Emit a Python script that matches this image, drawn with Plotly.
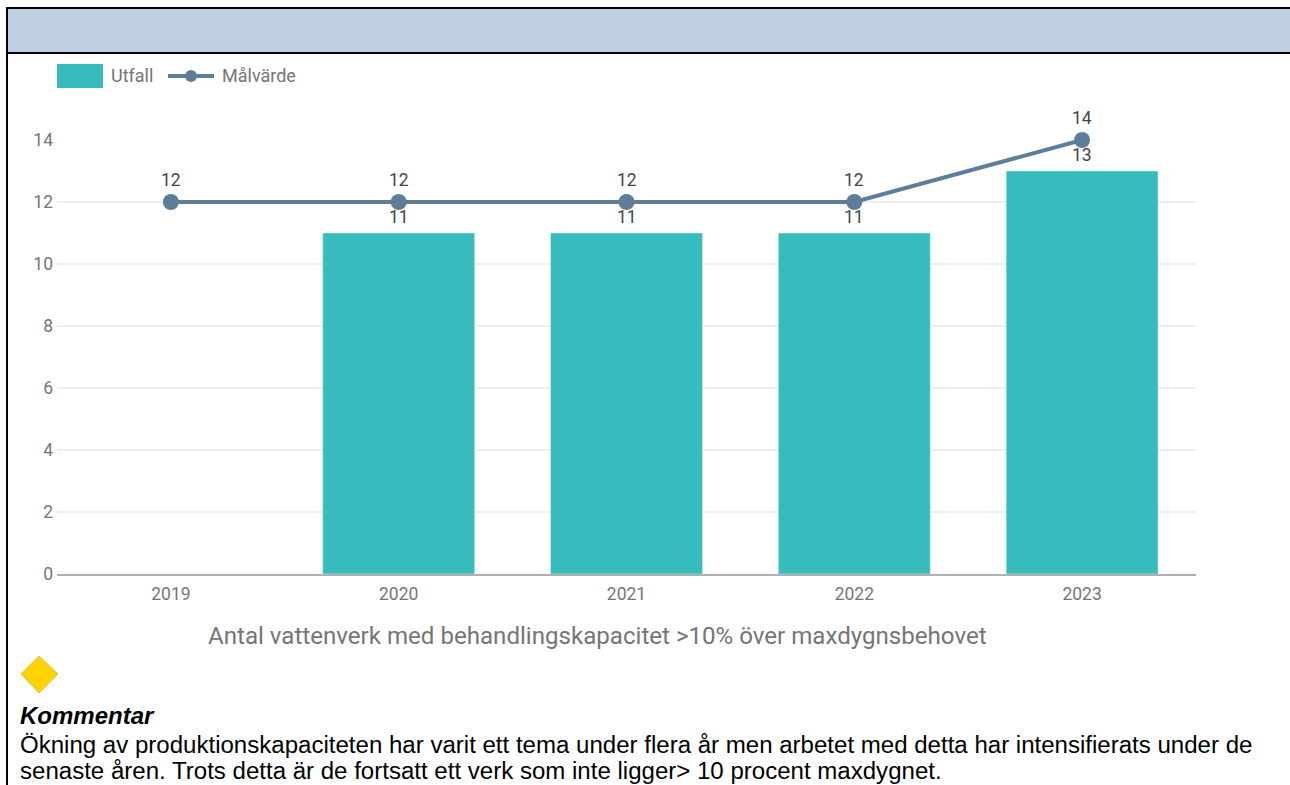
import plotly.graph_objects as go

years = ["2019", "2020", "2021", "2022", "2023"]
utfall = [None, 11, 11, 11, 13]
malvarde = [12, 12, 12, 12, 14]
y_ticks = [0, 2, 4, 6, 8, 10, 12, 14]
series_names = ["Utfall", "Målvärde"]
x_title = "Antal vattenverk med behandlingskapacitet >10% över maxdygnsbehovet"
comment_head = "Kommentar"
comment_lines = [
    "Ökning av produktionskapaciteten har varit ett tema under flera år men arbetet med detta har intensifierats under de",
    "senaste åren. Trots detta är de fortsatt ett verk som inte ligger> 10 procent maxdygnet.",
]

TEAL = "#36BCBC"
SLATE = "#5D7D99"
L, R, T, B = 57, 1196, 140, 574
W, H = 1290, 785


def px(x):
    return (x - L) / (R - L)


def py(y):
    return (B - y) / (B - T)


def rect(x0, y0, x1, y1, color):
    return dict(type="rect", xref="paper", yref="paper", x0=px(x0), x1=px(x1), y0=py(y0), y1=py(y1),
                fillcolor=color, line=dict(width=0), layer="below")


def label(x, y, text, size, color, family="Roboto", anchor="left"):
    return dict(xref="paper", yref="paper", x=px(x), y=py(y), text=text, showarrow=False, xanchor=anchor,
                yanchor="middle", font=dict(size=size, color=color, family=family), align="left",
                xshift=0, yshift=0)


def value_label(i, y, shift):
    return dict(xref="x", yref="y", x=i, y=y, text=str(y), showarrow=False, xanchor="center",
                yanchor="middle", yshift=shift, font=dict(size=17.5, color="#444444", family="Roboto"))


fig = go.Figure()
fig.add_trace(go.Bar(x=years, y=utfall, name=series_names[0], marker=dict(color=TEAL), width=0.667))
fig.add_trace(go.Scatter(x=years, y=malvarde, name=series_names[1], mode="lines+markers",
                         line=dict(color=SLATE, width=4), marker=dict(size=16, color=SLATE),
                         cliponaxis=False))

shapes = [
    rect(8, 9, W, 52, "#BFD0E2"),
    rect(6, 7, W, 9, "#000000"),
    rect(7, 52, W, 54, "#000000"),
    rect(6, 7, 8, H, "#000000"),
    rect(57, 64, 103, 88, TEAL),
    dict(type="line", xref="paper", yref="paper", x0=px(168), x1=px(214), y0=py(76), y1=py(76),
         line=dict(color=SLATE, width=4)),
    dict(type="circle", xref="paper", yref="paper", x0=px(185), x1=px(197), y0=py(70), y1=py(82),
         fillcolor=SLATE, line=dict(width=0)),
    dict(type="path", xref="paper", yref="paper",
         path="M {} {} L {} {} L {} {} L {} {} Z".format(px(21), py(674), px(39), py(656), px(58), py(674), px(39), py(693)),
         fillcolor="#FFD200", line=dict(color="#B89A20", width=0.5)),
]

annotations = [
    label(109, 76, series_names[0], 18, "#757575"),
    label(220, 76, series_names[1], 18, "#757575"),
    label(597.5, 636, x_title, 24.1, "#757575", anchor="center"),
    label(18, 715, "<b><i>" + comment_head + "</i></b>", 24, "#000000", "Liberation Sans"),
    label(18, 744, comment_lines[0], 24.05, "#000000", "Liberation Sans"),
    label(18, 770, comment_lines[1], 24.05, "#000000", "Liberation Sans"),
]
annotations += [value_label(i, v, 16) for i, v in enumerate(utfall) if v is not None]
annotations += [value_label(i, v, 22.5) for i, v in enumerate(malvarde)]

fig.update_layout(
    width=W, height=H, autosize=False,
    margin=dict(l=L, r=W - R, t=T, b=H - B, pad=0),
    paper_bgcolor="white", plot_bgcolor="white",
    showlegend=False, bargap=0.333,
    shapes=shapes, annotations=annotations,
    font=dict(family="Roboto", color="#757575", size=16),
)
fig.update_xaxes(type="category", categoryorder="array", categoryarray=years, range=[-0.5, 4.5],
                 showgrid=False, showline=True, linecolor="#B0B0B0", linewidth=2, ticks="",
                 tickfont=dict(size=17.5, color="#757575"), ticklabelstandoff=3)
fig.update_yaxes(range=[0, 14], tickvals=y_ticks, showgrid=True, gridcolor="#EEEEEE", gridwidth=2,
                 zeroline=False, showline=False, ticks="", tickfont=dict(size=17.5, color="#757575"),
                 ticklabelstandoff=3)

fig.write_html("out.html", config=dict(displayModeBar=False),
               post_script="document.body.style.margin='0';")
